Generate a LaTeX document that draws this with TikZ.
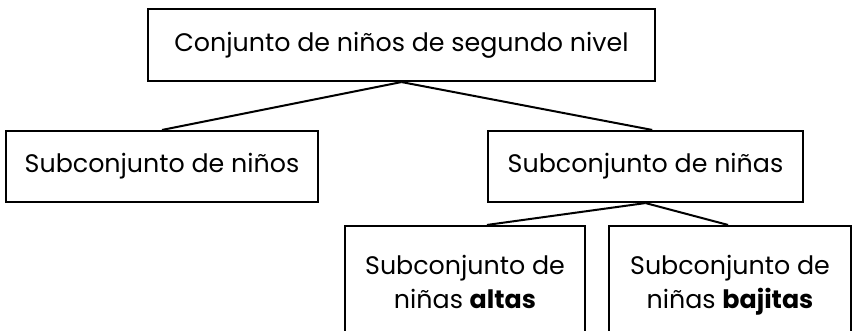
\documentclass[tikz,border=0pt]{standalone}
\usepackage{fontspec}
\setmainfont{Poppins}

\tikzset{
  caja/.style={draw, line width=1.6pt, align=center, inner sep=0pt,
    font=\fontsize{19}{25.5}\selectfont},
  rama/.style={line width=1.5pt}
}

\begin{document}
\begin{tikzpicture}[x=0.75pt, y=-0.75pt]
        \useasboundingbox (0,0) rectangle (852,331);
        \clip (0,0) rectangle (852,331);
        \node [caja, minimum width=380.25pt, minimum height=54pt] (total) at (401.5,45) {Conjunto de niños de segundo nivel};
        \node [caja, minimum width=234pt, minimum height=53.25pt] (ninos) at (162,166.5) {Subconjunto de niños};
        \node [caja, minimum width=236.25pt, minimum height=53.25pt] (ninas) at (645.5,166.5) {Subconjunto de niñas};
        \node [caja, minimum width=180pt, minimum height=88.5pt] (altas) at (465,285) {Subconjunto de\\niñas \textbf{altas}\vphantom{j}};
        \node [caja, minimum width=181.5pt, minimum height=88.5pt] (bajitas) at (730,285) {Subconjunto de\\niñas \textbf{bajitas}};
        \draw [rama] (total.south) -- (ninos.north);
        \draw [rama] (total.south) -- ([xshift=5pt]ninas.north);
        \draw [rama] (ninas.south) -- ([xshift=16.5pt]altas.north);
        \draw [rama] (ninas.south) -- ([xshift=-1.5pt]bajitas.north);
      \end{tikzpicture}
\end{document}
